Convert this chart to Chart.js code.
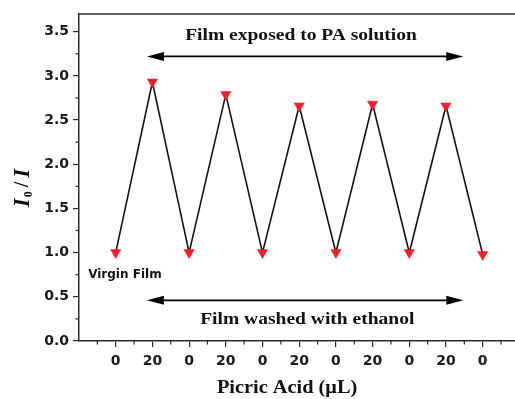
<!DOCTYPE html>
<html>
<head>
<meta charset="utf-8">
<script src="https://cdn.jsdelivr.net/npm/chart.js@4.4.1/dist/chart.umd.min.js"></script>
<style>
  html, body { margin: 0; padding: 0; background: #fff; }
  #wrap { width: 515px; height: 399px; position: relative; }
</style>
</head>
<body>
<div id="wrap"><canvas id="c" width="515" height="399"></canvas></div>
<script>
// ---- data ----
const positions = [1, 2, 3, 4, 5, 6, 7, 8, 9, 10, 11];
const volumeLabels = ['0', '20', '0', '20', '0', '20', '0', '20', '0', '20', '0'];
const ratioValues = [1.00, 2.93, 1.00, 2.79, 1.00, 2.66, 1.00, 2.68, 1.00, 2.66, 0.98];
const yTickValues = [0, 0.5, 1.0, 1.5, 2.0, 2.5, 3.0, 3.5];
const xMinorTicks = [0.5, 1.5, 2.5, 3.5, 4.5, 5.5, 6.5, 7.5, 8.5, 9.5, 10.5, 11.5];
const yMinorTicks = [0.25, 0.75, 1.25, 1.75, 2.25, 2.75, 3.25, 3.75];
const topNote = 'Film exposed to PA solution';
const bottomNote = 'Film washed with ethanol';
const startNote = 'Virgin Film';
const xTitle = 'Picric Acid (\u03BCL)';

const AXIS = '#2a2a2a';
const SERIF = '"Liberation Serif", "Times New Roman", serif';
const SANS = '"DejaVu Sans", sans-serif';

const points = positions.map((x, i) => ({ x: x, y: ratioValues[i] }));

function arrowLine(ctx, x1, x2, y) {
  const head = 17, half = 4.5;
  ctx.beginPath();
  ctx.moveTo(x1 + head - 2, y);
  ctx.lineTo(x2 - head + 2, y);
  ctx.stroke();
  ctx.beginPath();
  ctx.moveTo(x1, y); ctx.lineTo(x1 + head, y - half); ctx.lineTo(x1 + head, y + half); ctx.closePath();
  ctx.fill();
  ctx.beginPath();
  ctx.moveTo(x2, y); ctx.lineTo(x2 - head, y - half); ctx.lineTo(x2 - head, y + half); ctx.closePath();
  ctx.fill();
}

function stretchedText(ctx, text, cx, cy, font, sx) {
  ctx.save();
  ctx.font = font;
  ctx.textAlign = 'center';
  ctx.textBaseline = 'middle';
  ctx.translate(cx, cy);
  ctx.scale(sx, 1);
  ctx.fillText(text, 0, 0);
  ctx.restore();
}

const decor = {
  id: 'decor',
  beforeDatasetsDraw(chart) {
    const { ctx, chartArea: a, scales: { x, y } } = chart;
    ctx.save();
    // top frame line
    ctx.strokeStyle = AXIS;
    ctx.lineWidth = 1.5;
    ctx.beginPath();
    ctx.moveTo(a.left, a.top);
    ctx.lineTo(chart.width, a.top);
    ctx.stroke();
    // minor ticks
    ctx.lineWidth = 1.2;
    xMinorTicks.forEach(v => {
      const px = x.getPixelForValue(v);
      if (px > chart.width) return;
      ctx.beginPath(); ctx.moveTo(px, a.bottom); ctx.lineTo(px, a.bottom + 3.5); ctx.stroke();
    });
    yMinorTicks.forEach(v => {
      const py = y.getPixelForValue(v);
      if (py < a.top) return;
      ctx.beginPath(); ctx.moveTo(a.left, py); ctx.lineTo(a.left - 3.5, py); ctx.stroke();
    });
    // arrows
    ctx.strokeStyle = '#000';
    ctx.fillStyle = '#000';
    ctx.lineWidth = 1.6;
    const ax1 = x.getPixelForValue(1.85), ax2 = x.getPixelForValue(10.47);
    arrowLine(ctx, ax1, ax2, y.getPixelForValue(3.22));
    arrowLine(ctx, ax1, ax2, y.getPixelForValue(0.46));
    // annotations
    ctx.fillStyle = '#111';
    stretchedText(ctx, topNote, x.getPixelForValue(6.05), y.getPixelForValue(3.45), 'bold 16px ' + SERIF, 1.22);
    stretchedText(ctx, bottomNote, x.getPixelForValue(6.22), y.getPixelForValue(0.24), 'bold 16px ' + SERIF, 1.22);
    ctx.font = 'bold 12px ' + SANS;
    ctx.textAlign = 'left';
    ctx.textBaseline = 'middle';
    ctx.fillText(startNote, x.getPixelForValue(0.25), y.getPixelForValue(0.75));
    // x title
    stretchedText(ctx, xTitle, x.getPixelForValue(5.67), 388, 'bold 18px ' + SERIF, 1.13);
    // y title: I0 / I (rotated)
    ctx.save();
    ctx.translate(21, 188);
    ctx.rotate(-Math.PI / 2);
    ctx.textBaseline = 'alphabetic';
    ctx.textAlign = 'left';
    const fI = 'bold italic 23px ' + SERIF;
    const f0 = 'bold 12px ' + SERIF;
    const fS = 'bold 20px ' + SERIF;
    ctx.font = fI; const wI = ctx.measureText('I').width;
    ctx.font = f0; const w0 = ctx.measureText('0').width;
    ctx.font = fS; const wS = ctx.measureText('/').width;
    const gap = 4;
    const total = wI + 1 + w0 + gap + wS + gap + wI;
    let cx = -total / 2;
    const base = 8;
    ctx.font = fI; ctx.fillText('I', cx, base); cx += wI + 1;
    ctx.font = f0; ctx.fillText('0', cx, base + 3); cx += w0 + gap;
    ctx.font = fS; ctx.fillText('/', cx, base - 1); cx += wS + gap;
    ctx.font = fI; ctx.fillText('I', cx, base);
    ctx.restore();
    ctx.restore();
  }
};

new Chart(document.getElementById('c'), {
  type: 'line',
  data: {
    datasets: [{
      data: points,
      borderColor: '#111',
      borderWidth: 1.6,
      tension: 0,
      pointStyle: 'triangle',
      pointRotation: 180,
      pointRadius: 6,
      pointHoverRadius: 6,
      pointBackgroundColor: 'rgb(242,32,44)',
      pointBorderColor: 'rgb(242,32,44)',
      pointBorderWidth: 0.5,
      clip: false
    }]
  },
  options: {
    responsive: false,
    animation: false,
    events: [],
    layout: { autoPadding: false, padding: { left: 0, top: 14, right: 0, bottom: 0 } },
    plugins: { legend: { display: false }, tooltip: { enabled: false } },
    scales: {
      x: {
        type: 'linear',
        min: 0,
        max: 11.88,
        afterBuildTicks: s => { s.ticks = positions.map(v => ({ value: v })); },
        afterFit: s => { s.height = 58; s.paddingLeft = 0; s.paddingRight = 0; },
        border: { display: true, color: AXIS, width: 1.5 },
        grid: { display: true, drawOnChartArea: false, drawTicks: true, tickLength: 6, color: AXIS, lineWidth: 1.2 },
        ticks: {
          padding: 6,
          color: '#1a1a1a',
          font: { family: SANS, weight: 'bold', size: 14 },
          maxRotation: 0,
          autoSkip: false,
          callback: (v) => {
            const i = positions.indexOf(v);
            return i >= 0 ? volumeLabels[i] : '';
          }
        }
      },
      y: {
        min: 0,
        max: 3.7,
        afterBuildTicks: s => { s.ticks = yTickValues.map(v => ({ value: v })); },
        afterFit: s => { s.width = 79; s.paddingTop = 0; s.paddingBottom = 0; },
        border: { display: true, color: AXIS, width: 1.5 },
        grid: { display: true, drawOnChartArea: false, drawTicks: true, tickLength: 6, color: AXIS, lineWidth: 1.2 },
        ticks: {
          padding: 4,
          color: '#1a1a1a',
          font: { family: SANS, weight: 'bold', size: 14 },
          callback: v => Number(v).toFixed(1)
        }
      }
    }
  },
  plugins: [decor]
});
</script>
</body>
</html>
